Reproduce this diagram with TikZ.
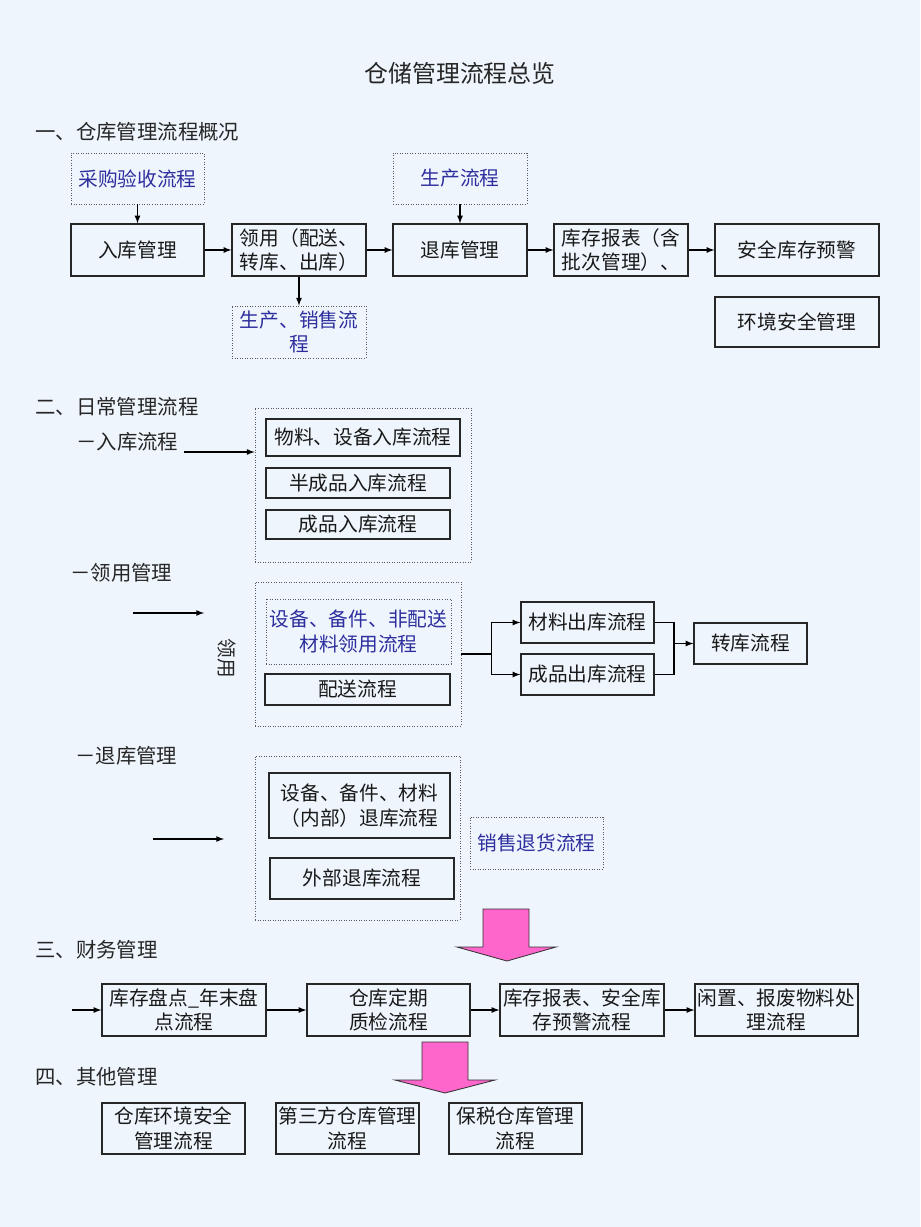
\documentclass[tikz,border=0pt]{standalone}
\usepackage{fontspec}
\setmainfont{Noto Sans CJK SC}
\usetikzlibrary{arrows,positioning,calc}

\definecolor{bgblue}{HTML}{EEF5FC}
\definecolor{flowblue}{HTML}{2E2E9E}
\definecolor{bigpink}{HTML}{FF66CC}
\newcommand{\boxfont}{\fontsize{14}{17.5}\selectfont}
\tikzset{boxsize/.style 2 args={minimum width=#1*0.025cm,minimum height=#2*0.025cm}}

\begin{document}
\begin{tikzpicture}
    [x=0.025cm,y=-0.025cm,
    box/.style={rectangle,draw=black!85,line width=0.9pt,inner sep=0pt,
    align=center,text=black!90,font=\boxfont},
    dotbox/.style={rectangle,draw=black!65,line width=0.6pt,
    dash pattern=on 0.6pt off 1.2pt,inner sep=0pt,align=center,
    text=flowblue,font=\boxfont},
    group/.style={rectangle,draw=black!65,line width=0.6pt,
    dash pattern=on 0.6pt off 1.2pt,inner sep=0pt},
    heading/.style={anchor=west,inner sep=0pt,text=black!85,
    font=\fontsize{14.5}{17}\selectfont},
    arr/.style={-latex,line width=0.9pt},
    bigarrow/.style={fill=bigpink,draw=black!80,line width=0.6pt}]
    \fill[bgblue] (0,0) rectangle (920,1227);
    \useasboundingbox (0,0) rectangle (920,1227);

    \node[font=\fontsize{17}{20}\selectfont,text=black!85] (title) at (460,73) {仓储管理流程总览};

    % part one
    \node[heading] (head one) at (35,132) {一、仓库管理流程概况};
    \node[dotbox,boxsize={133}{51}] (purchase) at (137.5,178.5) {采购验收流程};
    \node[box,boxsize={133}{52}] (stock in) at (137.5,250) {入库管理};
    \node[box,boxsize={134}{52},align=left] (issue) at (299,250) {领用（配送、\\转库、出库）};
    \node[dotbox,boxsize={134}{52}] (prod sales) at (299,332) {生产、销售流\\程};
    \node[dotbox,boxsize={134}{51}] (production) at (460,178.5) {生产流程};
    \node[box,boxsize={134}{52}] (return) at (460,250) {退库管理};
    \node[box,boxsize={134}{52},align=left] (report) at (621,250) {库存报表（含\\批次管理）、};
    \node[box,boxsize={164}{52}] (safety) at (797,250) {安全库存预警};
    \node[box,boxsize={164}{50}] (environment) at (797,322) {环境安全管理};
    \draw[arr] (purchase) -- (stock in);
    \draw[arr] (stock in) -- (issue);
    \draw[arr] (issue) -- (prod sales);
    \draw[arr] (issue) -- (return);
    \draw[arr] (production) -- (return);
    \draw[arr] (return) -- (report);
    \draw[arr] (report) -- (safety);

    % part two
    \node[heading] (head two) at (35,407) {二、日常管理流程};
    \node[heading] (in label) at (76,442) {－入库流程};
    \node[group,boxsize={216}{154}] (in group) at (363,485) {};
    \node[box,boxsize={194}{37}] (material in) at (363,437.5) {物料、设备入库流程};
    \node[box,boxsize={184}{30}] (semi in) at (358,483) {半成品入库流程};
    \node[box,boxsize={184}{29}] (product in) at (358,524.5) {成品入库流程};
    \coordinate (in start) at (184,452);
    \draw[arr] (in start) -- (in start -| in group.west);

    \node[heading] (issue label) at (70,573) {－领用管理};
    \coordinate (issue start) at (133,613);
    \coordinate (issue end) at (204,613);
    \draw[arr] (issue start) -- (issue end);
    \node[rotate=-90,text=black!85,font=\boxfont] (issue side) at (227,658) {领用};
    \node[group,boxsize={206}{144}] (issue group) at (358,654) {};
    \node[dotbox,boxsize={185}{65}] (spare issue) at (358.5,631.5) {设备、备件、非配送\\材料领用流程};
    \node[box,boxsize={185}{31}] (delivery) at (357.5,689.5) {配送流程};
    \node[box,boxsize={133}{41}] (material out) at (587.5,622.5) {材料出库流程};
    \node[box,boxsize={133}{41}] (product out) at (587.5,674.5) {成品出库流程};
    \node[box,boxsize={113}{41}] (transfer) at (750.5,643.5) {转库流程};
    \draw[line width=0.9pt] (issue group.east) -- ++(30,0) coordinate (fork);
    \draw[arr] (fork) |- (material out.west);
    \draw[arr] (fork) |- (product out.west);
    \coordinate (merge) at (674,643.5);
    \draw[line width=0.9pt] (material out.east) -| (merge) |- (product out.east);
    \draw[arr] (merge) -- (transfer);

    \node[heading] (return label) at (75,756) {－退库管理};
    \coordinate (return start) at (153,839);
    \coordinate (return end) at (224,839);
    \draw[arr] (return start) -- (return end);
    \node[group,boxsize={205}{164}] (return group) at (357.5,838) {};
    \node[box,boxsize={181}{65}] (inner return) at (359.5,805.5) {设备、备件、材料\\（内部）退库流程};
    \node[box,boxsize={184}{41}] (outer return) at (362,878.5) {外部退库流程};
    \node[dotbox,boxsize={133}{52}] (sales return) at (536.5,843) {销售退货流程};
    \draw[bigarrow] (483,909) -- (529,909) -- (529,947) -- (556,947) -- (507,961)
        -- (457,947) -- (483,947) -- cycle;

    % part three
    \node[heading] (head three) at (35,950) {三、财务管理};
    \node[box,boxsize={164}{52}] (stocktake) at (184,1010) {库存盘点\_年末盘\\点流程};
    \node[box,boxsize={163}{52}] (quality) at (388.5,1010) {仓库定期\\质检流程};
    \node[box,boxsize={164}{52}] (report warn) at (582,1010) {库存报表、安全库\\存预警流程};
    \node[box,boxsize={163}{52}] (scrap) at (776.5,1010) {闲置、报废物料处\\理流程};
    \coordinate (finance start) at (72,1010);
    \draw[arr] (finance start) -- (stocktake);
    \draw[arr] (stocktake) -- (quality);
    \draw[arr] (quality) -- (report warn);
    \draw[arr] (report warn) -- (scrap);
    \draw[bigarrow] (422,1042) -- (468,1042) -- (468,1080) -- (495,1080) -- (445,1093)
        -- (395,1080) -- (422,1080) -- cycle;

    % part four
    \node[heading] (head four) at (35,1077) {四、其他管理};
    \node[box,boxsize={143}{51}] (env safety) at (173.5,1128.5) {仓库环境安全\\管理流程};
    \node[box,boxsize={143}{51}] (third party) at (347.5,1128.5) {第三方仓库管理\\流程};
    \node[box,boxsize={133}{51}] (bonded) at (515.5,1128.5) {保税仓库管理\\流程};
\end{tikzpicture}
\end{document}
